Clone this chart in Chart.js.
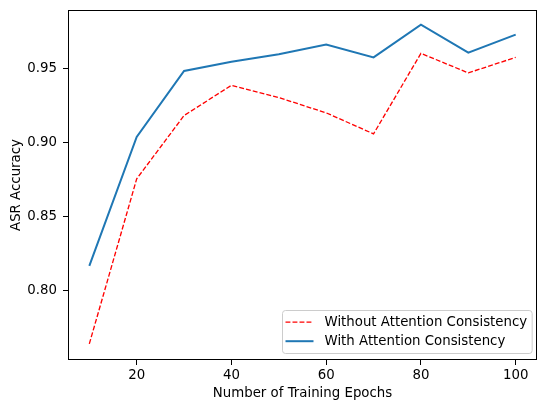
<!DOCTYPE html>
<html>
<head>
<meta charset="utf-8">
<script src="https://cdn.jsdelivr.net/npm/chart.js@4.4.1/dist/chart.umd.min.js"></script>
<style>
  html, body { margin: 0; padding: 0; background: #fff; }
  canvas { display: block; }
</style>
</head>
<body>
<canvas id="c" width="538" height="400"></canvas>
<script>
// ---- data ----
const epochs = [10, 20, 30, 40, 50, 60, 70, 80, 90, 100];
const withoutAC = [0.7642, 0.8757, 0.9185, 0.9389, 0.9306, 0.9203, 0.9061, 0.9605, 0.9473, 0.9578];
const withAC = [0.8169, 0.9040, 0.9486, 0.9549, 0.9599, 0.9664, 0.9578, 0.9799, 0.9610, 0.9732];
const xTickValues = [20, 40, 60, 80, 100];
const yTickValues = [0.80, 0.85, 0.90, 0.95];
const seriesLabels = ['Without Attention Consistency', 'With Attention Consistency'];
const xTitle = 'Number of Training Epochs';
const yTitle = 'ASR Accuracy';

const FONT = 'DejaVu Sans';
const FS = 13.33;

const framePlugin = {
  id: 'frame',
  afterDatasetsDraw(chart) {
    const {ctx, chartArea: a} = chart;
    ctx.save();
    ctx.strokeStyle = '#000';
    ctx.lineWidth = 1;
    ctx.strokeRect(Math.round(a.left) + 0.5, Math.round(a.top) + 0.5,
                   Math.round(a.right - a.left) - 1, Math.round(a.bottom - a.top) - 1);
    ctx.restore();
  }
};

const legendPlugin = {
  id: 'mplLegend',
  afterDraw(chart) {
    const {ctx, chartArea: a} = chart;
    ctx.save();
    ctx.font = FS + 'px "' + FONT + '"';
    const ds = chart.data.datasets;
    let tw = 0;
    ds.forEach(d => { tw = Math.max(tw, ctx.measureText(d.label).width); });
    const padL = 3, lineLen = 28, gap = 11, padR = 5, rowH = 19, firstRow = 11.7;
    const w = padL + lineLen + gap + tw + padR;
    const h = 43;
    const x = Math.round(a.right - 5 - w) + 0.5;
    const y = Math.round(a.bottom - 7 - h) + 0.5;
    const r = 3;
    ctx.beginPath();
    ctx.moveTo(x + r, y);
    ctx.lineTo(x + w - r, y);
    ctx.quadraticCurveTo(x + w, y, x + w, y + r);
    ctx.lineTo(x + w, y + h - r);
    ctx.quadraticCurveTo(x + w, y + h, x + w - r, y + h);
    ctx.lineTo(x + r, y + h);
    ctx.quadraticCurveTo(x, y + h, x, y + h - r);
    ctx.lineTo(x, y + r);
    ctx.quadraticCurveTo(x, y, x + r, y);
    ctx.closePath();
    ctx.fillStyle = 'rgba(255,255,255,0.8)';
    ctx.fill();
    ctx.strokeStyle = '#cccccc';
    ctx.lineWidth = 1;
    ctx.stroke();
    ds.forEach((d, i) => {
      const cy = y + firstRow + i * rowH;
      ctx.beginPath();
      ctx.setLineDash(d.borderDash || []);
      ctx.strokeStyle = d.borderColor;
      ctx.lineWidth = d.borderWidth;
      ctx.moveTo(x + padL, cy);
      ctx.lineTo(x + padL + lineLen, cy);
      ctx.stroke();
      ctx.setLineDash([]);
      ctx.fillStyle = '#000';
      ctx.textBaseline = 'middle';
      ctx.textAlign = 'left';
      ctx.fillText(d.label, x + padL + lineLen + gap, cy);
    });
    ctx.restore();
  }
};

new Chart(document.getElementById('c'), {
  type: 'line',
  data: {
    datasets: [
      {
        label: seriesLabels[0],
        data: epochs.map((e, i) => ({x: e, y: withoutAC[i]})),
        borderColor: '#ff0000',
        borderWidth: 1.33,
        borderDash: [4.9, 2.1],
        pointRadius: 0,
        fill: false,
        tension: 0
      },
      {
        label: seriesLabels[1],
        data: epochs.map((e, i) => ({x: e, y: withAC[i]})),
        borderColor: '#1f77b4',
        borderWidth: 2,
        pointRadius: 0,
        fill: false,
        tension: 0
      }
    ]
  },
  options: {
    responsive: false,
    devicePixelRatio: 1,
    animation: false,
    layout: { padding: { top: 10, right: 1, left: 0, bottom: 0 } },
    plugins: { legend: { display: false }, tooltip: { enabled: false } },
    scales: {
      x: {
        type: 'linear',
        min: 5.5,
        max: 104.5,
        afterBuildTicks: s => { s.ticks = xTickValues.map(v => ({value: v})); },
        afterFit: s => { s.height = 40; s.paddingLeft = 0; s.paddingRight = 0; },
        border: { display: false },
        grid: { drawOnChartArea: false, drawTicks: true, tickLength: 5, color: '#000', tickColor: '#000' },
        ticks: { color: '#000', font: { family: FONT, size: FS }, padding: 3, maxRotation: 0, autoSkip: false },
        title: { display: true, text: xTitle, color: '#000', font: { family: FONT, size: FS }, padding: { top: 0, bottom: -2 } }
      },
      y: {
        type: 'linear',
        min: 0.7533,
        max: 0.9898,
        afterBuildTicks: s => { s.ticks = yTickValues.map(v => ({value: v})); },
        afterFit: s => { s.width = 68; s.paddingTop = 0; s.paddingBottom = 0; },
        border: { display: false },
        grid: { drawOnChartArea: false, drawTicks: true, tickLength: 5, color: '#000', tickColor: '#000' },
        ticks: { color: '#000', font: { family: FONT, size: FS }, padding: 6, autoSkip: false,
                 callback: v => Number(v).toFixed(2) },
        title: { display: true, text: yTitle, color: '#000', font: { family: FONT, size: FS }, padding: { top: 9, bottom: 0 } }
      }
    }
  },
  plugins: [framePlugin, legendPlugin]
});
</script>
</body>
</html>
